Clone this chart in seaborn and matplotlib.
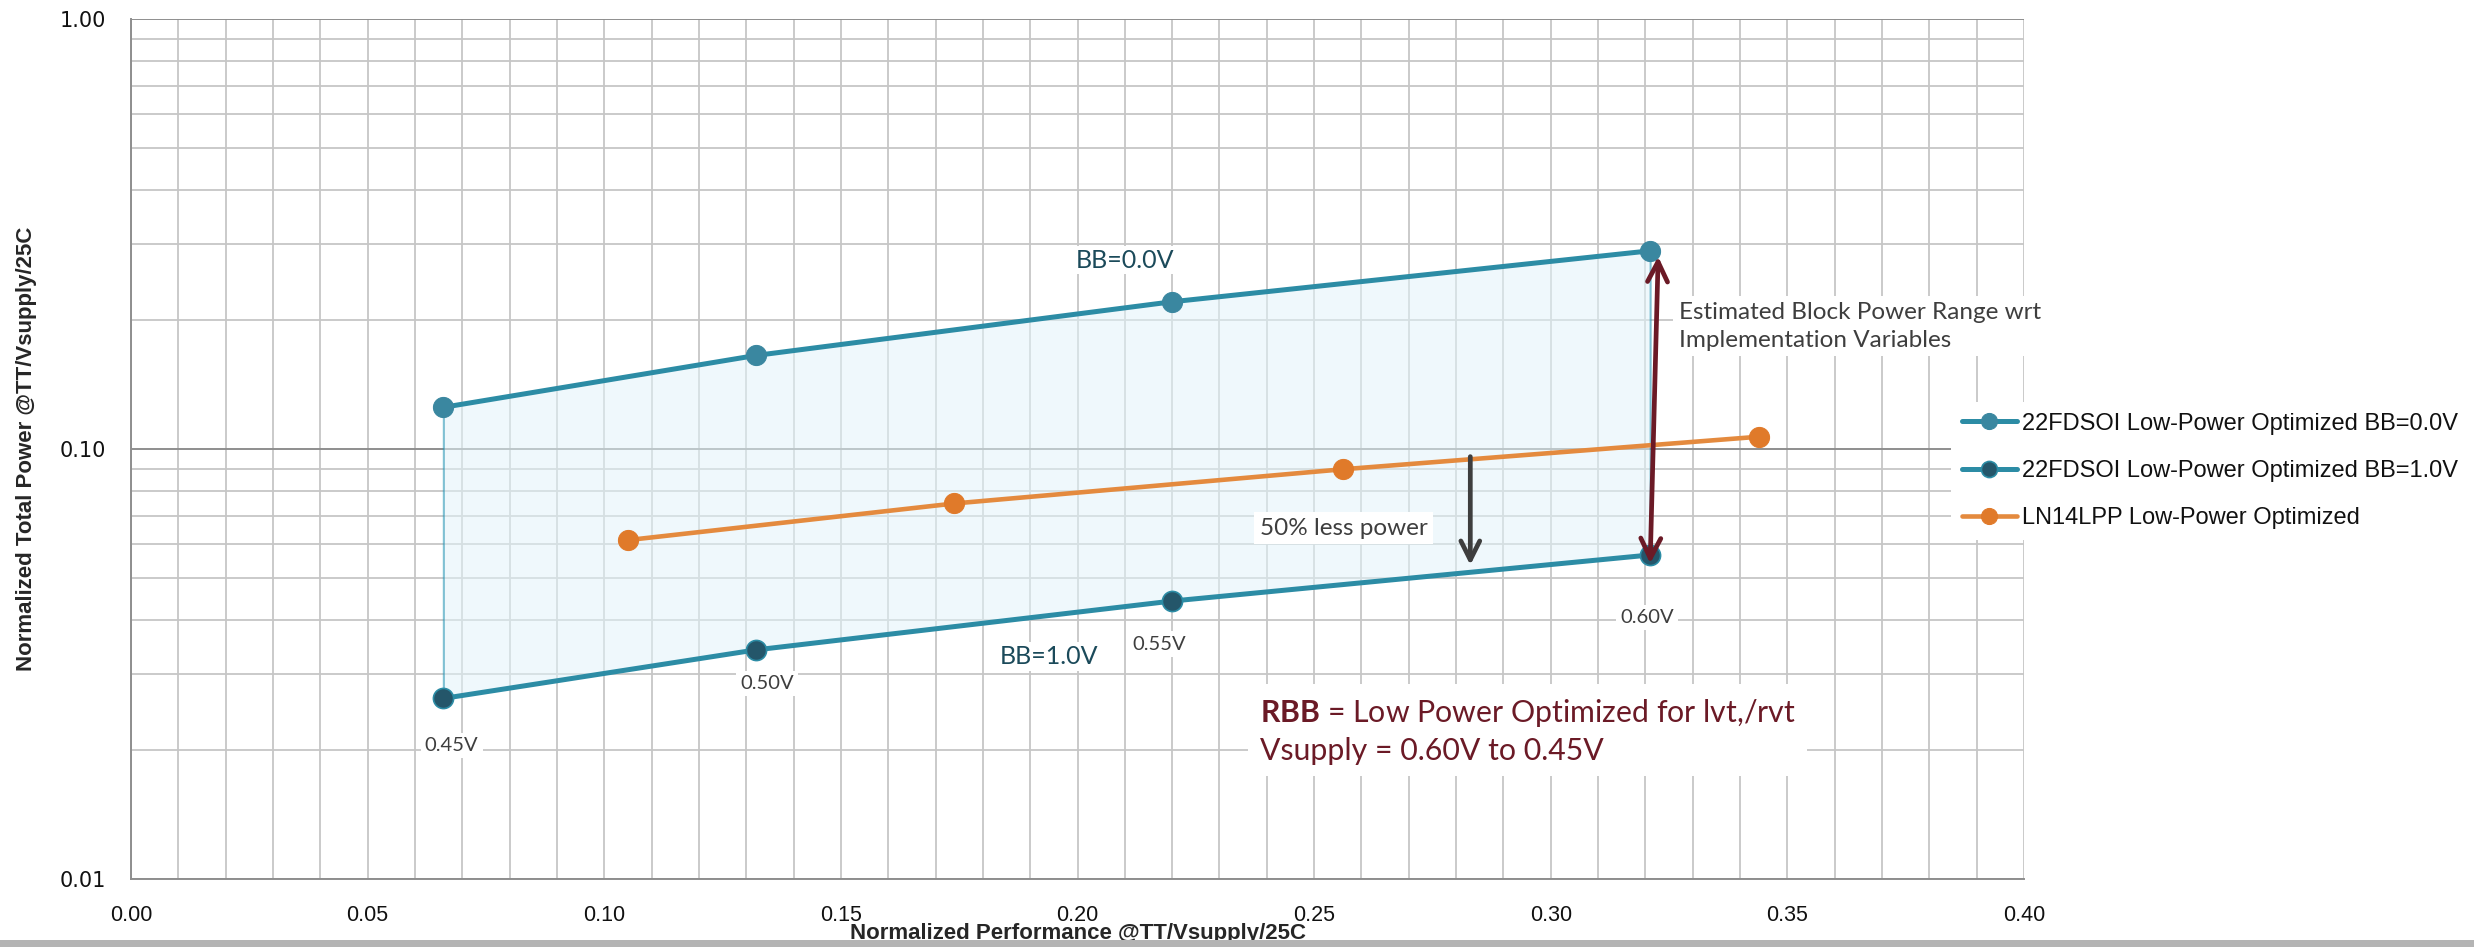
import matplotlib
matplotlib.use('Agg')
import matplotlib.pyplot as plt
import seaborn as sns
import pandas as pd
from matplotlib import font_manager
from matplotlib.ticker import FixedLocator, NullFormatter, LogLocator, MultipleLocator

# ---- data ----
perf_fdsoi = [0.066, 0.132, 0.220, 0.321]
power_bb0 = [0.125, 0.165, 0.220, 0.289]
power_bb1 = [0.0263, 0.0341, 0.0443, 0.0567]
vdd_labels = ['0.45V', '0.50V', '0.55V', '0.60V']

perf_14lpp = [0.105, 0.174, 0.256, 0.344]
power_14lpp = [0.0614, 0.0747, 0.0897, 0.1068]

series_names = ['22FDSOI Low-Power Optimized BB=0.0V',
                '22FDSOI Low-Power Optimized BB=1.0V',
                'LN14LPP Low-Power Optimized']

x_ticks = [0.00, 0.05, 0.10, 0.15, 0.20, 0.25, 0.30, 0.35, 0.40]
y_ticks = [0.01, 0.1, 1.0]
y_ticklabels = ['0.01', '0.10', '1.00']

# ---- styling ----
sns.set_style('white')
plt.rcParams['font.family'] = ['Liberation Sans', 'DejaVu Sans']
plt.rcParams['mathtext.fontset'] = 'custom'
plt.rcParams['mathtext.bf'] = 'Lato:bold'
plt.rcParams['mathtext.rm'] = 'Lato'

names = {f.name for f in font_manager.fontManager.ttflist}
narrow = 'Liberation Sans Narrow' in names
label_font = ['Liberation Sans Narrow', 'Liberation Sans'] if narrow else ['Liberation Sans']
label_size = 19 if narrow else 16

teal = '#2c8ca5'
teal_marker = '#3a87a0'
teal_dark = '#24566a'
orange = '#e48a3e'
orange_marker = '#e07a2a'
grid_minor = '#c6c6c6'
grid_major = '#8e8e8e'
note_grey = '#3e3e3e'
maroon = '#6b1a26'

df_bb0 = pd.DataFrame({'perf': perf_fdsoi, 'power': power_bb0})
df_bb1 = pd.DataFrame({'perf': perf_fdsoi, 'power': power_bb1})
df_14 = pd.DataFrame({'perf': perf_14lpp, 'power': power_14lpp})

fig = plt.figure(figsize=(24.74, 9.47), dpi=100)
ax = fig.add_axes([131 / 2474, 1 - 879 / 947, 1893 / 2474, 860 / 947])

ax.set_yscale('log')
ax.set_xlim(0, 0.40)
ax.set_ylim(0.01, 1.0)

# grid
ax.set_axisbelow(True)
ax.xaxis.set_major_locator(FixedLocator(x_ticks))
ax.xaxis.set_minor_locator(MultipleLocator(0.01))
ax.yaxis.set_major_locator(FixedLocator(y_ticks))
ax.yaxis.set_minor_locator(LogLocator(base=10, subs=range(2, 10)))
ax.yaxis.set_minor_formatter(NullFormatter())
ax.grid(True, which='minor', axis='both', color=grid_minor, lw=1.3)
ax.grid(True, which='major', axis='x', color=grid_minor, lw=1.3)
ax.grid(True, which='major', axis='y', color=grid_major, lw=1.4)

# shaded FDSOI range
ax.fill_between(perf_fdsoi, power_bb1, power_bb0, facecolor='#e2f4fa', alpha=0.55,
                edgecolor='#1b8fb0', lw=1.5, zorder=1)

# series
sns.lineplot(data=df_bb0, x='perf', y='power', ax=ax, color=teal, lw=3.6, marker='o',
             markersize=14.5, markerfacecolor=teal_marker, markeredgecolor=teal_marker,
             label=series_names[0], zorder=3)
sns.lineplot(data=df_bb1, x='perf', y='power', ax=ax, color=teal, lw=3.6, marker='o',
             markersize=14.5, markerfacecolor=teal_dark, markeredgecolor=teal,
             markeredgewidth=1.2, label=series_names[1], zorder=3)
sns.lineplot(data=df_14, x='perf', y='power', ax=ax, color=orange, lw=3.3, marker='o',
             markersize=14.5, markerfacecolor=orange_marker, markeredgecolor=orange_marker,
             label=series_names[2], zorder=3)

# arrows
ax.annotate('', xy=(perf_fdsoi[-1] + 0.0017, power_bb0[-1] * 0.97),
            xytext=(perf_fdsoi[-1], power_bb1[-1] * 0.955),
            arrowprops=dict(arrowstyle='<->', color=maroon, lw=3.4, mutation_scale=36,
                            shrinkA=0, shrinkB=0), zorder=5)
ax.annotate('', xy=(0.283, 0.0537), xytext=(0.283, 0.096),
            arrowprops=dict(arrowstyle='->', color=note_grey, lw=3.4, mutation_scale=34,
                            shrinkA=0, shrinkB=0), zorder=5)

# text annotations
white_box = dict(facecolor='white', edgecolor='none', pad=2)
ax.text(0.21, 0.275, 'BB=0.0V', family='Lato', fontsize=18, color='#1b4a5a',
        ha='center', va='center', bbox=white_box, zorder=4)
ax.text(0.194, 0.0329, 'BB=1.0V', family='Lato', fontsize=18, color='#1b4a5a',
        ha='center', va='center', bbox=white_box, zorder=4)

label_offsets = [(6, -34), (8, -24), (-9, -31), (-2, -45)]
for px, py, lab, off in zip(perf_fdsoi, power_bb1, vdd_labels, label_offsets):
    ax.annotate(lab, xy=(px, py), xytext=off, textcoords='offset points',
                family='Lato', fontsize=14.5, color=note_grey, ha='center', va='center',
                bbox=dict(facecolor='white', edgecolor='none', pad=3), zorder=4)

ax.text(0.2385, 0.0655, '50% less power', family='Lato', fontsize=17.5, color=note_grey,
        ha='left', va='center', bbox=dict(facecolor='white', edgecolor='none', pad=4), zorder=4)
ax.text(0.327, 0.193, 'Estimated Block Power Range wrt\nImplementation Variables',
        family='Lato', fontsize=17.5, color=note_grey, ha='left', va='center',
        linespacing=1.4, bbox=dict(facecolor='white', edgecolor='none', pad=4), zorder=4)
ax.text(0.2385, 0.0221, '$\\mathbf{RBB}$ = Low Power Optimized for lvt,/rvt\nVsupply = 0.60V to 0.45V',
        family='Lato', fontsize=21.8, color=maroon, ha='left', va='center', linespacing=1.35,
        bbox=dict(facecolor='white', edgecolor='none', pad=8), zorder=4)

# axes, ticks, labels
for side in ['top', 'right']:
    ax.spines[side].set_visible(False)
for side in ['left', 'bottom']:
    ax.spines[side].set_color(grid_major)
    ax.spines[side].set_linewidth(1.4)

ax.set_xticklabels([f'{v:.2f}' for v in x_ticks])
ax.set_yticklabels(y_ticklabels)
ax.tick_params(axis='x', which='major', direction='out', length=6, width=1.3,
               color=grid_major, pad=13, labelsize=15.5, labelcolor='#111111')
ax.tick_params(axis='y', which='major', direction='out', length=6, width=1.3,
               color=grid_major, pad=12, labelsize=15, labelcolor='#111111')
ax.tick_params(which='minor', length=0)
for t in ax.get_yticklabels():
    t.set_family('DejaVu Sans')

ax.set_xlabel('Normalized Performance @TT/Vsupply/25C', family=label_font,
              fontsize=label_size, fontweight='bold', va='center')
ax.set_ylabel('Normalized Total Power @TT/Vsupply/25C', family=label_font,
              fontsize=label_size, fontweight='bold', va='center')
ax.xaxis.set_label_coords(0.5, -0.063)
ax.yaxis.set_label_coords(-0.055, 0.5)

# legend
handles, labels = ax.get_legend_handles_labels()
ax.get_legend().remove()
leg = fig.legend(handles, labels, loc='upper left', bbox_to_anchor=(1951 / 2474, 1 - 402 / 947),
                 frameon=True, facecolor='white', edgecolor='none', framealpha=1,
                 fontsize=17, borderaxespad=0, borderpad=0.45, handlelength=2.35,
                 handletextpad=0.2, labelspacing=1.07, markerscale=0.8, fancybox=False)
for t in leg.get_texts():
    t.set_color('#111111')

fig.add_artist(plt.Rectangle((0, 0), 1, 7 / 947, transform=fig.transFigure,
                             facecolor='#b4b4b4', edgecolor='none'))

fig.savefig('out.png', dpi=100)
